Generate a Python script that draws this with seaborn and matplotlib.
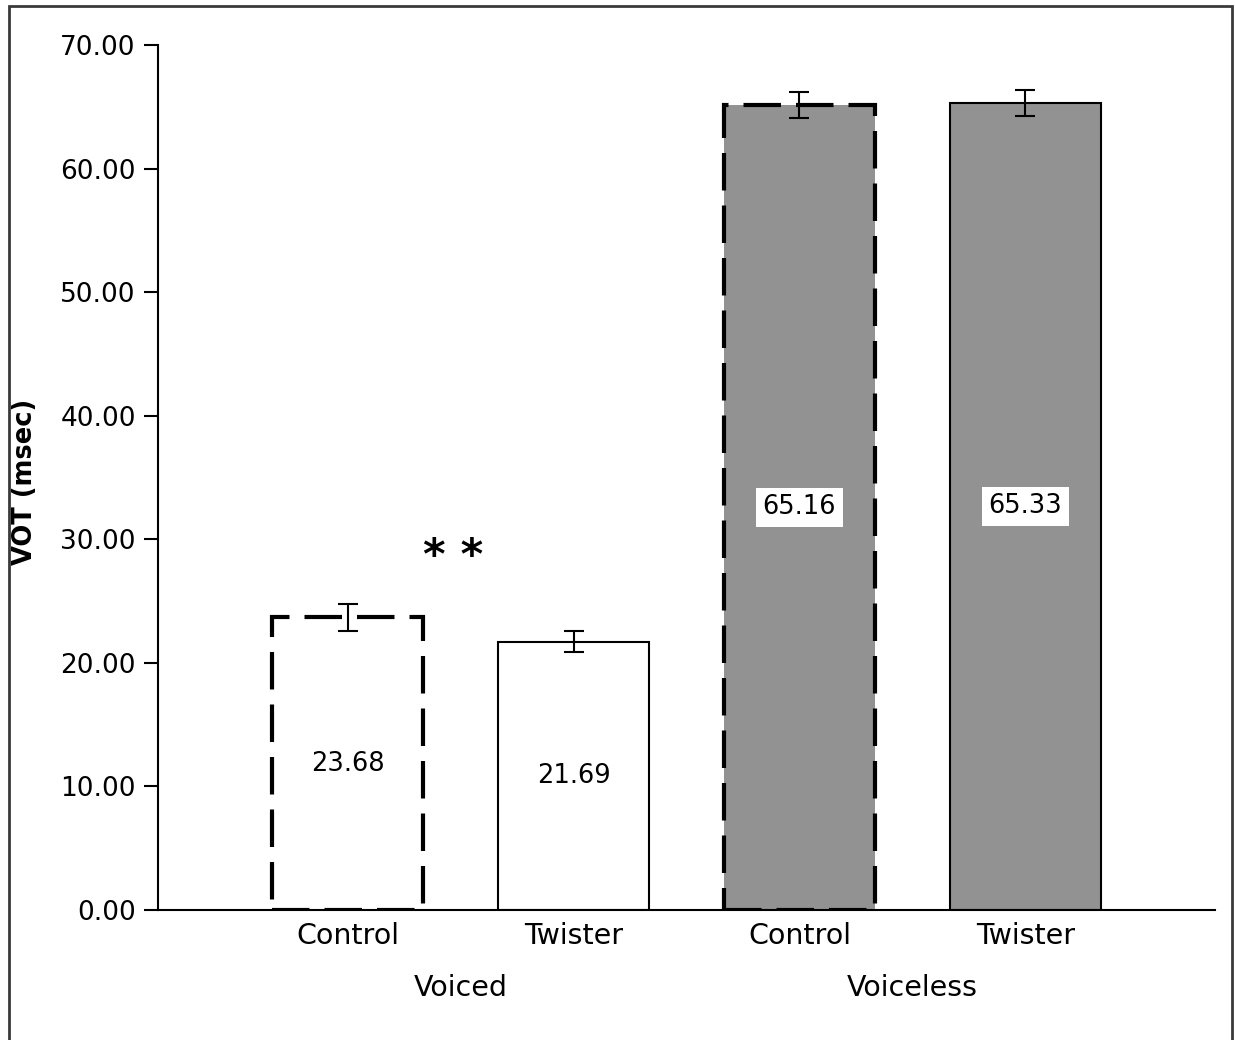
import numpy as np
import pandas as pd
import matplotlib
matplotlib.use("Agg")
import matplotlib.pyplot as plt
import matplotlib.transforms as mtransforms
from matplotlib.patches import Rectangle
import seaborn as sns

# === Data ===
groups = ["Voiced", "Voiced", "Voiceless", "Voiceless"]
conditions = ["Control", "Twister", "Control", "Twister"]
vot = [23.68, 21.69, 65.16, 65.33]
errors = [1.1, 0.85, 1.05, 1.05]
star_label = "* *"

df = pd.DataFrame({"group": groups, "cond": conditions, "vot": vot, "err": errors})
df["key"] = df["group"] + " " + df["cond"]

# === Style ===
sns.set_style("white")
plt.rcParams["font.family"] = ["DejaVu Sans"]
plt.rcParams["text.color"] = "black"
plt.rcParams["xtick.color"] = "black"
plt.rcParams["ytick.color"] = "black"
plt.rcParams["axes.labelcolor"] = "black"
fill_colors = ["white", "white", "#929292", "#929292"]

fig = plt.figure(figsize=(12.35, 10.4), dpi=100)
ax = fig.add_axes([158 / 1235, 1 - 910 / 1040, (1215 - 158) / 1235, (910 - 45) / 1040])

sns.barplot(data=df, x="key", y="vot", hue="key", palette=fill_colors,
            width=0.67, legend=False, errorbar=None, ax=ax)

# edges: dashed thick for control, thin solid for twister
for patch, cond in zip(ax.patches, df["cond"]):
    patch.set_edgecolor("black")
    if cond == "Control":
        patch.set_linewidth(3)
        patch.set_linestyle((0, (9, 3.6)))
    else:
        patch.set_linewidth(1.5)
        patch.set_linestyle("-")

# error bars
xs = np.arange(len(df))
ax.errorbar(xs, df["vot"], yerr=df["err"], fmt="none", ecolor="black",
            elinewidth=1.5, capsize=7, capthick=1.5, zorder=5)

# value labels in the middle of the bars
for x, v, g in zip(xs, df["vot"], df["group"]):
    box = dict(boxstyle="square,pad=0.25", fc="white", ec="none") if g == "Voiceless" else None
    ax.text(x, v / 2, f"{v:.2f}", ha="center", va="center", fontsize=18.5, bbox=box, zorder=6)

# significance marker
ax.text(0.465, 28.6, star_label, ha="center", va="center", fontsize=31, fontweight="bold")

# === Axes ===
ax.set_ylim(0, 70)
ax.set_xlim(-0.84, 3.84)
ax.set_yticks(np.arange(0, 71, 10))
ax.set_yticklabels([f"{t:.2f}" for t in np.arange(0, 71, 10)], fontsize=19)
ax.set_xticks(xs)
ax.set_xticklabels(df["cond"], fontsize=20.5)
ax.tick_params(axis="x", which="major", length=0, pad=9)
ax.set_xticks([-0.84, 3.84], minor=True)
ax.tick_params(axis="x", which="minor", length=10, width=1.5, direction="out", color="black")
ax.tick_params(axis="y", length=10, width=1.5, direction="out", color="black", left=True, pad=6)
ax.set_xlabel("")
ax.set_ylabel("VOT (msec)", fontsize=18.5, fontweight="bold")
ax.yaxis.set_label_coords(-0.1135, 0.495)

for side in ["top", "right"]:
    ax.spines[side].set_visible(False)
for side in ["left", "bottom"]:
    ax.spines[side].set_color("black")
    ax.spines[side].set_linewidth(1.5)

# group labels under the categories
trans = mtransforms.blended_transform_factory(ax.transData, ax.transAxes)
for name in ["Voiced", "Voiceless"]:
    idx = np.where(df["group"] == name)[0]
    ax.text(idx.mean(), -0.09, name, transform=trans, ha="center", va="center", fontsize=20.5)

# figure frame (no bottom edge visible)
fig.patches.append(Rectangle((9 / 1235, -0.05), (1232 - 9) / 1235, 1.05 - 6 / 1040,
                             transform=fig.transFigure, fill=False,
                             edgecolor="#3a3a3a", linewidth=2))

fig.savefig("out.png", dpi=100)
